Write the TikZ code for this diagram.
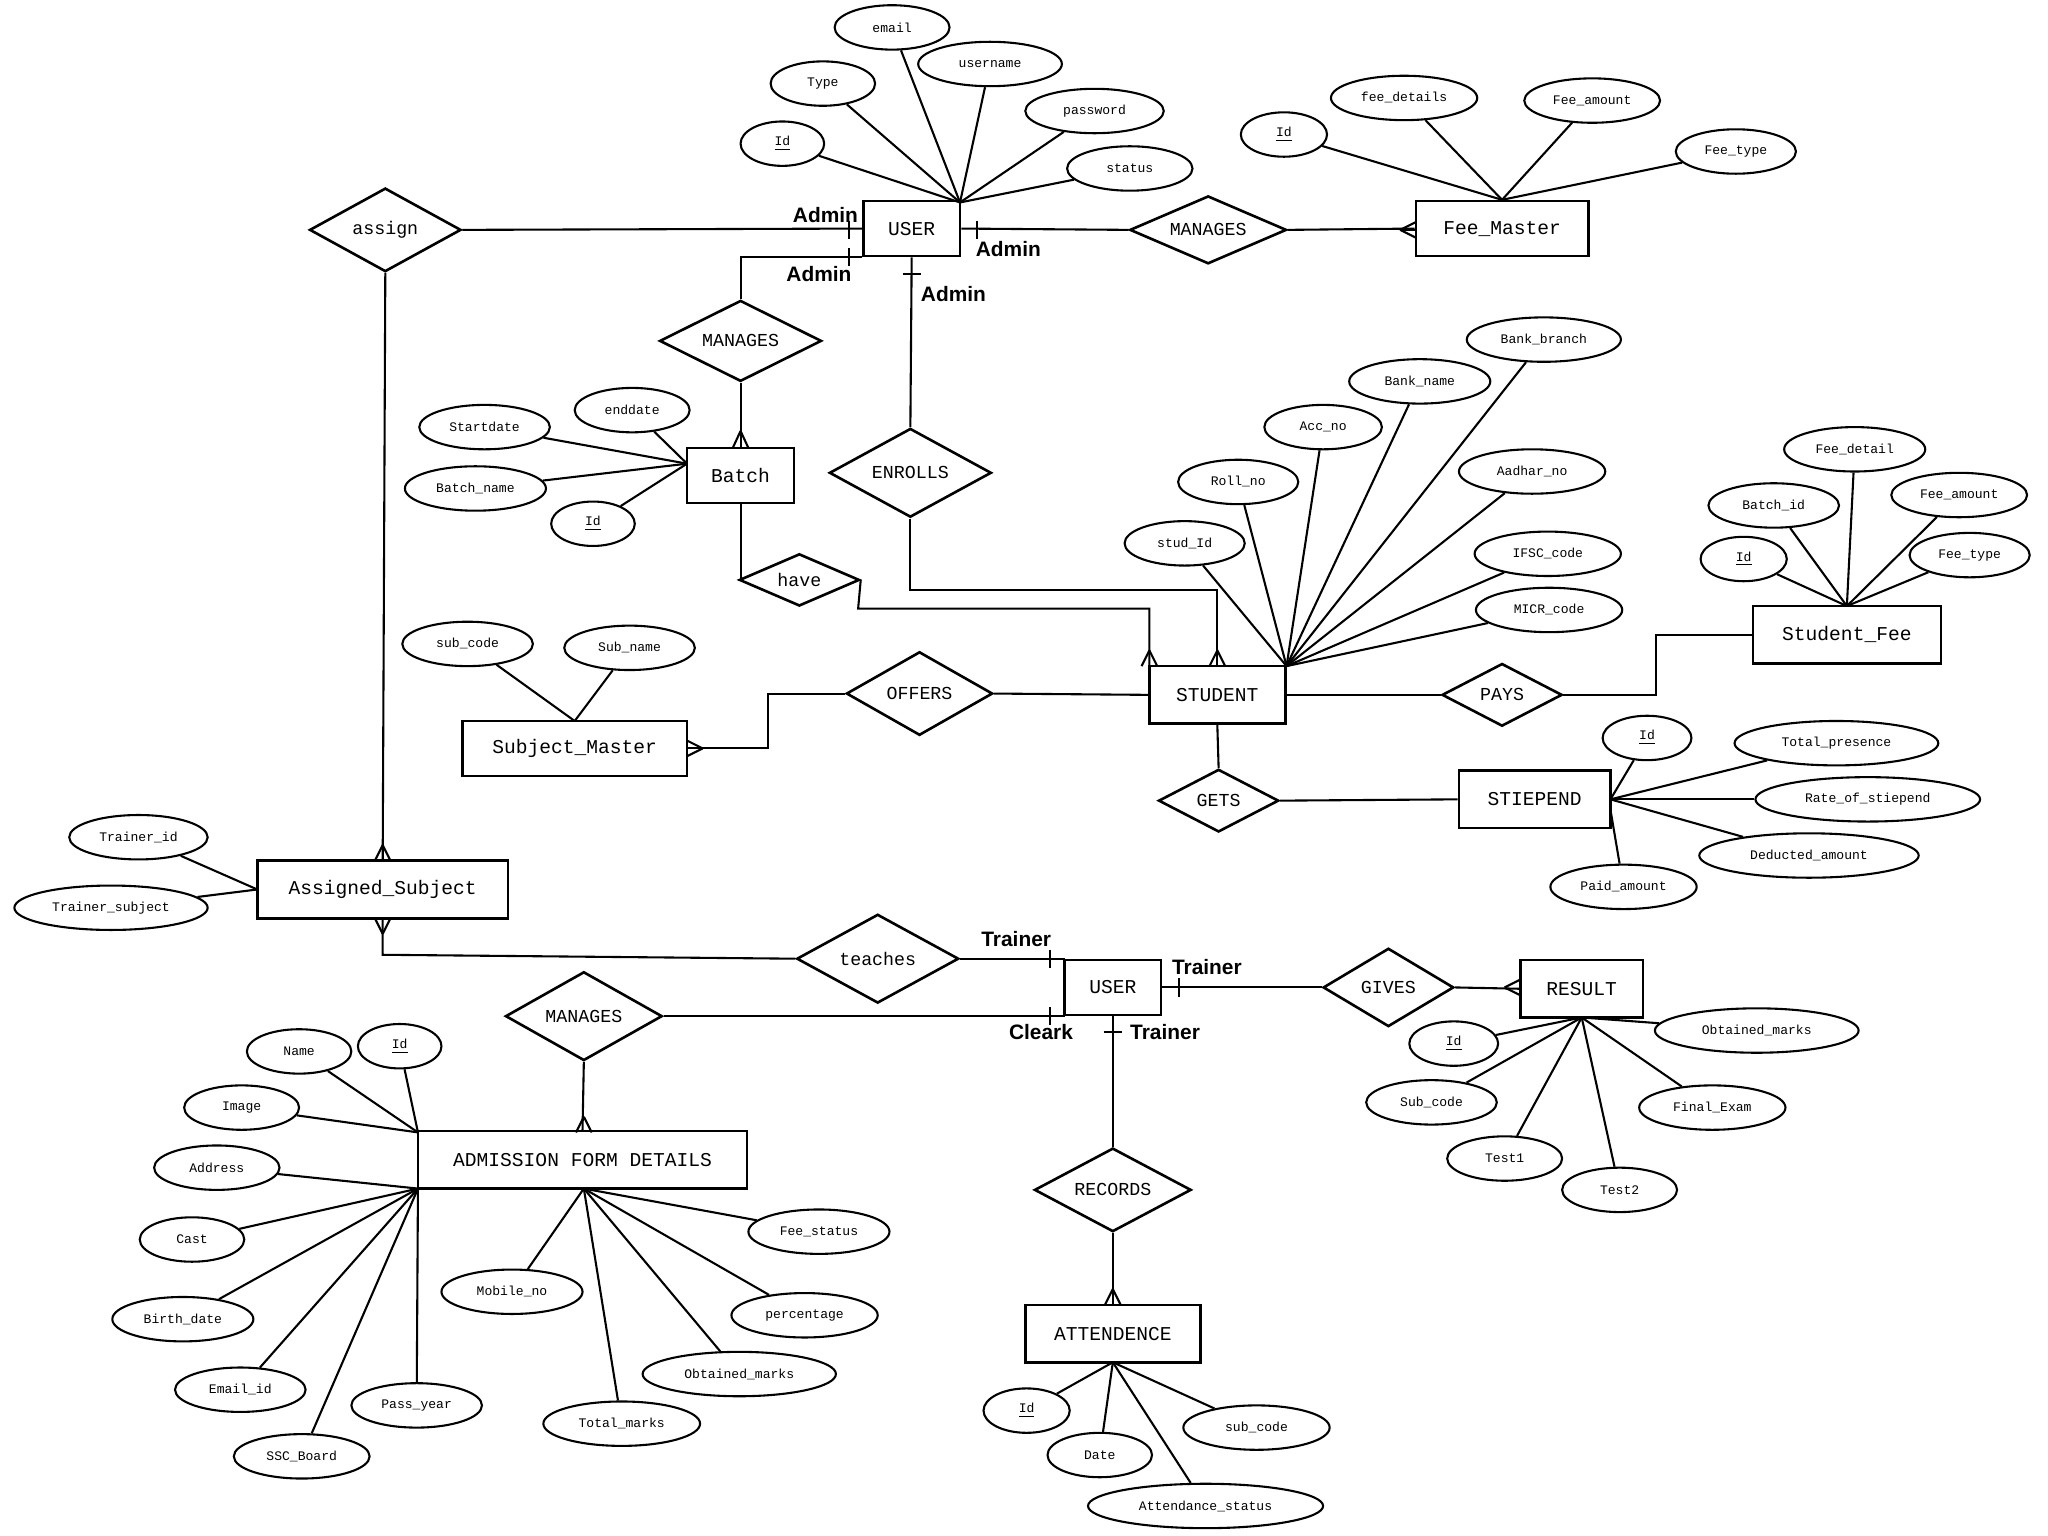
\documentclass[tikz,border=0pt]{standalone}
\usepackage{fontspec}
\setmainfont{Liberation Mono}
\newfontfamily\lblfont{Liberation Sans}
\usetikzlibrary{shapes.geometric}
\tikzset{
 ent/.style={draw,line width=1pt,rectangle,font=\fontsize{7.5}{9}\selectfont,inner sep=2pt},
 rel/.style={draw,line width=1pt,diamond,aspect=2.1,font=\fontsize{7}{8}\selectfont,inner sep=0.5pt},
 att/.style={draw,line width=0.8pt,ellipse,font=\fontsize{5}{6}\selectfont,minimum width=42pt,minimum height=17pt,inner sep=0.5pt},
 lb/.style={font=\lblfont\bfseries\fontsize{8}{9}\selectfont},
 ln/.style={line width=0.8pt},
}
\begin{document}
\begin{tikzpicture}[x=0.5pt,y=-0.5pt,every path/.style={line width=0.8pt}]
\fill[white] (0,0) rectangle (1568,1176);
\useasboundingbox (0,0) rectangle (1568,1176);
% USER top
\node[ent,minimum width=37pt,minimum height=21pt] (user) at (698,175) {USER};
\foreach \n/\t/\x/\y/\w in {email/email/683/21/44,username/username/758/49/55,type/Type/630/64/40,password/password/838/85/53,uid/\underline{Id}/599/110/32,status/status/865/129/48}
 {\node[att,minimum width=\w pt] (\n) at (\x,\y) {\t};}
\coordinate (uh) at (735,155);
\foreach \n in {email,username,type,password,uid,status} \draw (\n) -- (uh);
% Fee master
\node[rel,minimum width=60pt,minimum height=26pt] (man1) at (925,176) {MANAGES};
\node[ent,minimum width=66pt,minimum height=21pt] (fee) at (1150,175) {Fee\_Master};
\foreach \n/\t/\x/\y/\w in {fid/\underline{Id}/983/103/33,fdet/fee\_details/1075/75/56,famt/Fee\_amount/1219/77/52,ftype/Fee\_type/1329/116/46}
 {\node[att,minimum width=\w pt] (\n) at (\x,\y) {\t};}
\coordinate (fh) at (1150,153);
\foreach \n in {fid,fdet,famt,ftype} \draw (\n) -- (fh);
\draw (user.east) -- (man1.west);
\draw (748,169) -- (748,183);
\node[lb] at (772,191) {Admin};
\draw (man1.east) -- (fee.west);
\draw (1084,176) -- (1072,176); \draw (1072,176) -- (1084,170); \draw (1072,176) -- (1084,182);
% assign
\node[rel,minimum width=58pt,minimum height=32pt] (assign) at (295,176) {assign};
\draw (assign.east) -- (user.west);
\draw (650,169) -- (650,183);
\node[lb] at (632,165) {Admin};
% Manages batch
\node[rel,minimum width=62pt,minimum height=31pt] (man2) at (567,261) {MANAGES};
\draw (user.west |- 0,197) -- (567,197) -- (man2.north);
\draw (650,190) -- (650,204);
\node[lb] at (627,210) {Admin};
\node[ent,minimum width=41pt,minimum height=21pt] (batch) at (567,364) {Batch};
\draw (man2.south) -- (batch.north);
\draw (567,330) -- (561,343); \draw (567,330) -- (573,343);
\foreach \n/\t/\x/\y/\w in {bsd/Startdate/371/327/50,bed/enddate/484/314/44,bname/Batch\_name/364/374/54,bid/\underline{Id}/454/401/32}
 {\node[att,minimum width=\w pt] (\n) at (\x,\y) {\t};}
\coordinate (bh) at (526,355);
\foreach \n in {bsd,bed,bname,bid} \draw (\n) -- (bh);
% ENROLLS
\node[rel,minimum width=62pt,minimum height=34pt] (enr) at (697,362) {ENROLLS};
\draw (698,197) -- (enr.north);
\draw (691,210) -- (705,210);
\node[lb] at (730,225) {Admin};
% STUDENT
\node[ent,minimum width=52pt,minimum height=22pt] (stu) at (932,532) {STUDENT};
\draw (enr.south) -- (697,452) -- (932,452) -- (932,510);
\draw (932,498) -- (926,510); \draw (932,498) -- (938,510);
\node[rel,minimum width=46pt,minimum height=20pt] (have) at (612,444) {have};
\draw (batch.south) -- (567,444) -- (have.west);
\draw (have.east) -- (657,466) -- (880,466) -- (880,510);
\draw (880,498) -- (874,510); \draw (880,498) -- (886,510);
\foreach \n/\t/\x/\y/\w in {bbr/Bank\_branch/1182/260/59,bnm/Bank\_name/1087/292/54,acc/Acc\_no/1013/327/45,roll/Roll\_no/948/369/46,aad/Aadhar\_no/1173/361/56,sid/stud\_Id/907/416/46,ifsc/IFSC\_code/1185/424/56,micr/MICR\_code/1186/467/56}
 {\node[att,minimum width=\w pt] (\n) at (\x,\y) {\t};}
\coordinate (sh) at (985,510);
\foreach \n in {bbr,bnm,acc,roll,aad,sid,ifsc,micr} \draw (\n) -- (sh);
% OFFERS
\node[rel,minimum width=56pt,minimum height=32pt] (off) at (704,531) {OFFERS};
\draw (stu.west) -- (off.east);
\node[ent,minimum width=86pt,minimum height=21pt] (subm) at (440,573) {Subject\_Master};
\draw (off.west) -- (588,531) -- (588,573) -- (subm.east);
\draw (538,573) -- (526,567); \draw (538,573) -- (526,579);
\foreach \n/\t/\x/\y/\w in {scode/sub\_code/358/493/50,sname/Sub\_name/482/496/50}
 {\node[att,minimum width=\w pt] (\n) at (\x,\y) {\t};}
\coordinate (smh) at (440,552);
\draw (scode) -- (smh); \draw (sname) -- (smh);
% PAYS
\node[rel,minimum width=46pt,minimum height=24pt] (pays) at (1150,532) {PAYS};
\draw (stu.east) -- (pays.west);
\node[ent,minimum width=72pt,minimum height=22pt] (sfee) at (1414,486) {Student\_Fee};
\draw (pays.east) -- (1268,532) -- (1268,486) -- (sfee.west);
\foreach \n/\t/\x/\y/\w in {sfd/Fee\_detail/1420/344/54,sbid/Batch\_id/1358/387/50,sfa/Fee\_amount/1500/379/52,sfid/\underline{Id}/1335/428/33,sft/Fee\_type/1508/425/46}
 {\node[att,minimum width=\w pt] (\n) at (\x,\y) {\t};}
\coordinate (sfh) at (1414,464);
\foreach \n in {sfd,sbid,sfa,sfid,sft} \draw (\n) -- (sfh);
% GETS
\node[rel,minimum width=46pt,minimum height=24pt] (gets) at (933,613) {GETS};
\draw (stu.south) -- (gets.north);
\node[ent,minimum width=58pt,minimum height=22pt] (stp) at (1175,612) {STIEPEND};
\draw (gets.east) -- (stp.west);
\foreach \n/\t/\x/\y/\w in {tid/\underline{Id}/1261/565/34,tpr/Total\_presence/1406/569/78,trs/Rate\_of\_stiepend/1430/612/86,tda/Deducted\_amount/1385/655/84,tpa/Paid\_amount/1243/679/56}
 {\node[att,minimum width=\w pt] (\n) at (\x,\y) {\t};}
\coordinate (th) at (1233,612);
\foreach \n in {tid,tpr,trs,tda} \draw (\n) -- (th);
\draw (tpa) -- (1233,620);
% Assigned subject
\node[ent,minimum width=96pt,minimum height=22pt] (asub) at (293,681) {Assigned\_Subject};
\draw (assign.south) -- (293,659);
\draw (293,647) -- (287,659); \draw (293,647) -- (299,659);
\foreach \n/\t/\x/\y/\w in {trid/Trainer\_id/106/641/53,trsub/Trainer\_subject/85/695/74}
 {\node[att,minimum width=\w pt] (\n) at (\x,\y) {\t};}
\coordinate (ah) at (197,681);
\draw (trid) -- (ah); \draw (trsub) -- (ah);
% teaches
\node[rel,minimum width=62pt,minimum height=34pt] (teach) at (672,734) {teaches};
\draw (asub.south) -- (293,731) -- (teach.west);
\draw (293,715) -- (287,703); \draw (293,715) -- (299,703);
\node[ent,minimum width=37pt,minimum height=21pt] (user2) at (852,756) {USER};
\draw (teach.east) -- (815,734);
\draw (804,727) -- (804,741);
\node[lb] at (778,719) {Trainer};
% GIVES
\node[rel,minimum width=50pt,minimum height=30pt] (gives) at (1063,756) {GIVES};
\draw (user2.east) -- (gives.west);
\draw (903,749) -- (903,763);
\node[lb] at (924,740) {Trainer};
\node[ent,minimum width=47pt,minimum height=22pt] (res) at (1211,757) {RESULT};
\draw (gives.east) -- (res.west);
\draw (1152,756) -- (1164,750); \draw (1152,756) -- (1164,762);
\foreach \n/\t/\x/\y/\w in {rom/Obtained\_marks/1345/789/78,rid/\underline{Id}/1113/799/34,rsc/Sub\_code/1096/844/50,rfe/Final\_Exam/1311/848/56,rt1/Test1/1152/887/44,rt2/Test2/1240/911/44}
 {\node[att,minimum width=\w pt] (\n) at (\x,\y) {\t};}
\coordinate (rh) at (1211,779);
\foreach \n in {rom,rid,rsc,rfe,rt1,rt2} \draw (\n) -- (rh);
% MANAGES admission
\node[rel,minimum width=60pt,minimum height=34pt] (man3) at (447,778) {MANAGES};
\draw (man3.east) -- (815,778);
\draw (804,771) -- (804,785);
\node[lb] at (797,790) {Cleark};
\node[ent,minimum width=126pt,minimum height=22pt] (adm) at (446,888) {ADMISSION FORM DETAILS};
\draw (man3.south) -- (adm.north);
\draw (447,855) -- (441,867); \draw (447,855) -- (453,867);
\foreach \n/\t/\x/\y/\w in {aname/Name/229/805/40,aid/\underline{Id}/306/801/32,aimg/Image/185/848/44,aadd/Address/166/894/48,acast/Cast/147/949/40,abd/Birth\_date/140/1010/54,aem/Email\_id/184/1064/50,apy/Pass\_year/319/1076/50,assc/SSC\_Board/231/1115/52,amob/Mobile\_no/392/989/54,atm/Total\_marks/476/1090/60,aom/Obtained\_marks/566/1052/74,aper/percentage/616/1007/56,afs/Fee\_status/627/943/54}
 {\node[att,minimum width=\w pt] (\n) at (\x,\y) {\t};}
\coordinate (a1) at (320,867); \coordinate (a2) at (320,910); \coordinate (a3) at (447,910);
\foreach \n in {aname,aid,aimg} \draw (\n) -- (a1);
\foreach \n in {aadd,acast,abd,aem,apy,assc} \draw (\n) -- (a2);
\foreach \n in {amob,atm,aom,aper,afs} \draw (\n) -- (a3);
% RECORDS
\node[rel,minimum width=60pt,minimum height=32pt] (rec) at (852,911) {RECORDS};
\draw (user2.south) -- (rec.north);
\draw (845,790) -- (859,790);
\node[lb] at (892,790) {Trainer};
\node[ent,minimum width=67pt,minimum height=22pt] (att) at (852,1021) {ATTENDENCE};
\draw (rec.south) -- (att.north);
\draw (852,987) -- (846,999); \draw (852,987) -- (858,999);
\foreach \n/\t/\x/\y/\w in {tti/\underline{Id}/786/1080/33,tdt/Date/842/1114/40,tsc/sub\_code/962/1093/56,tas/Attendance\_status/923/1153/90}
 {\node[att,minimum width=\w pt] (\n) at (\x,\y) {\t};}
\coordinate (ath) at (852,1043);
\foreach \n in {tti,tdt,tsc,tas} \draw (\n) -- (ath);
\end{tikzpicture}
\end{document}
